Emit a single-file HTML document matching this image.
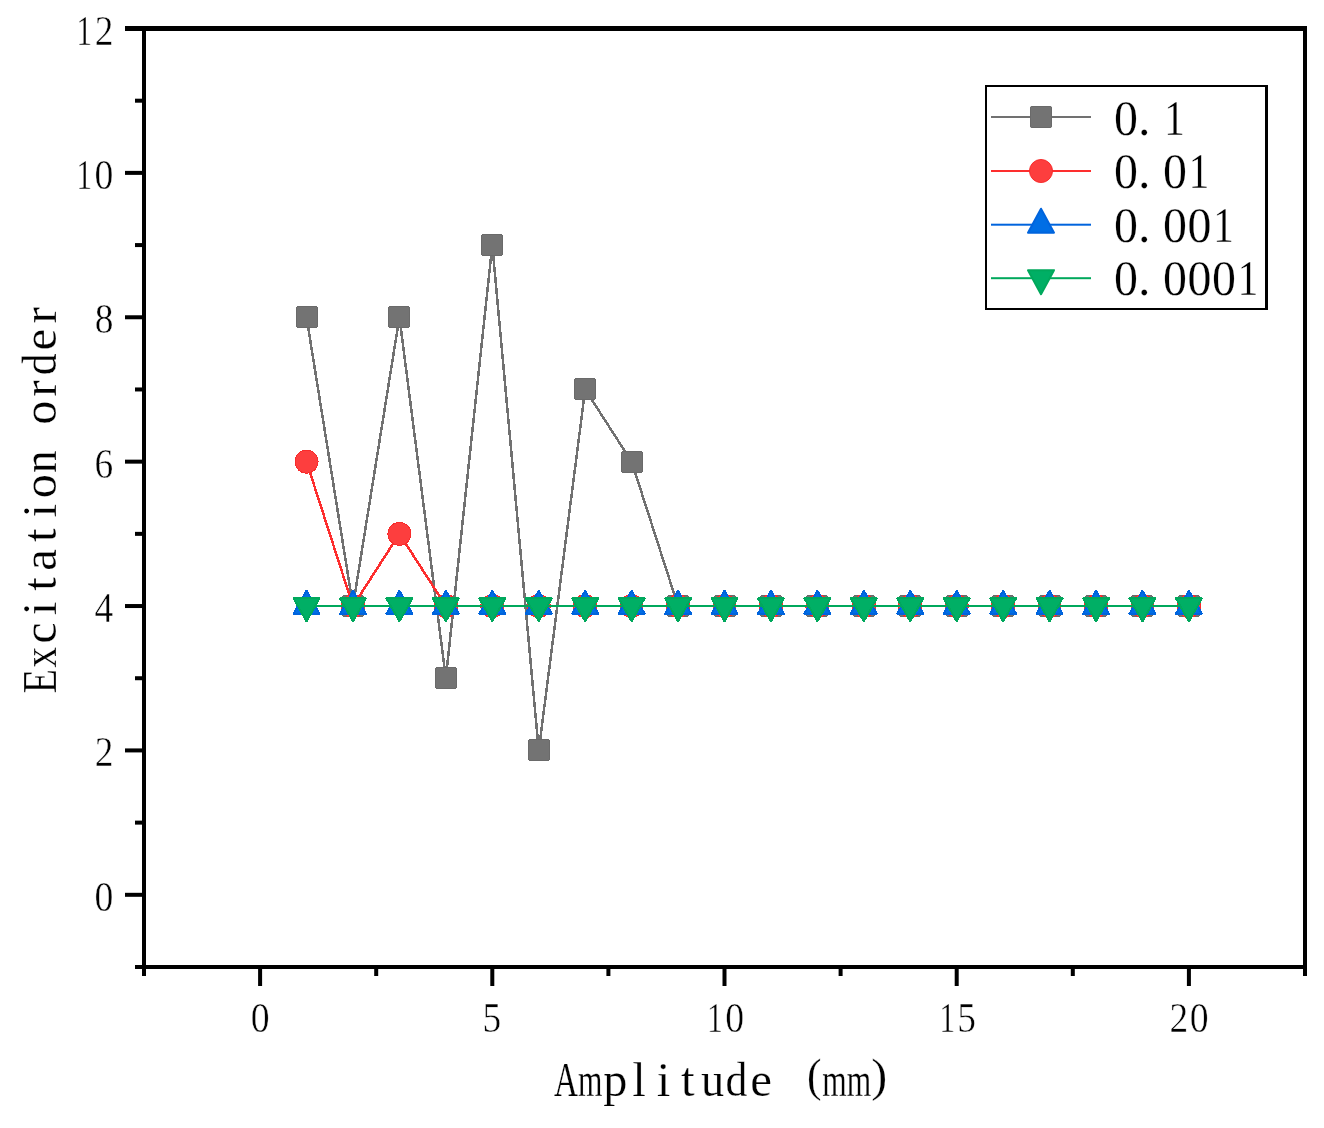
<!DOCTYPE html><html><head><meta charset="utf-8"><style>html,body{margin:0;padding:0;background:#fff;}svg{display:block;}text{font-family:"Liberation Serif",serif;fill:#000;stroke:#fff;stroke-width:0.25px;}text.t{stroke-width:0.45px;}</style></head><body>
<svg width="1324" height="1128" viewBox="0 0 1324 1128">
<rect width="1324" height="1128" fill="#fff"/>
<g shape-rendering="crispEdges">
<polyline points="306.54,317.27 352.98,606.04 399.42,317.27 445.86,678.23 492.30,245.08 538.74,750.42 585.18,389.46 631.62,461.65 678.06,606.04 724.50,606.04 770.94,606.04 817.38,606.04 863.82,606.04 910.26,606.04 956.70,606.04 1003.14,606.04 1049.58,606.04 1096.02,606.04 1142.46,606.04 1188.90,606.04" fill="none" stroke="#717171" stroke-width="2.5" stroke-linejoin="round"/>
<polygon points="297.3,306 316.7,306 318,307.3 318,326.7 316.7,328 297.3,328 296,326.7 296,307.3" fill="#6A6A6A"/>
<rect x="297" y="307" width="20" height="20" fill="#737373"/>
<polygon points="343.3,595 362.7,595 364,596.3 364,615.7 362.7,617 343.3,617 342,615.7 342,596.3" fill="#6A6A6A"/>
<rect x="343" y="596" width="20" height="20" fill="#737373"/>
<polygon points="389.3,306 408.7,306 410,307.3 410,326.7 408.7,328 389.3,328 388,326.7 388,307.3" fill="#6A6A6A"/>
<rect x="389" y="307" width="20" height="20" fill="#737373"/>
<polygon points="436.3,667 455.7,667 457,668.3 457,687.7 455.7,689 436.3,689 435,687.7 435,668.3" fill="#6A6A6A"/>
<rect x="436" y="668" width="20" height="20" fill="#737373"/>
<polygon points="482.3,234 501.7,234 503,235.3 503,254.7 501.7,256 482.3,256 481,254.7 481,235.3" fill="#6A6A6A"/>
<rect x="482" y="235" width="20" height="20" fill="#737373"/>
<polygon points="529.3,739 548.7,739 550,740.3 550,759.7 548.7,761 529.3,761 528,759.7 528,740.3" fill="#6A6A6A"/>
<rect x="529" y="740" width="20" height="20" fill="#737373"/>
<polygon points="575.3,378 594.7,378 596,379.3 596,398.7 594.7,400 575.3,400 574,398.7 574,379.3" fill="#6A6A6A"/>
<rect x="575" y="379" width="20" height="20" fill="#737373"/>
<polygon points="622.3,451 641.7,451 643,452.3 643,471.7 641.7,473 622.3,473 621,471.7 621,452.3" fill="#6A6A6A"/>
<rect x="622" y="452" width="20" height="20" fill="#737373"/>
<polygon points="668.3,595 687.7,595 689,596.3 689,615.7 687.7,617 668.3,617 667,615.7 667,596.3" fill="#6A6A6A"/>
<rect x="668" y="596" width="20" height="20" fill="#737373"/>
<polygon points="715.3,595 734.7,595 736,596.3 736,615.7 734.7,617 715.3,617 714,615.7 714,596.3" fill="#6A6A6A"/>
<rect x="715" y="596" width="20" height="20" fill="#737373"/>
<polygon points="761.3,595 780.7,595 782,596.3 782,615.7 780.7,617 761.3,617 760,615.7 760,596.3" fill="#6A6A6A"/>
<rect x="761" y="596" width="20" height="20" fill="#737373"/>
<polygon points="807.3,595 826.7,595 828,596.3 828,615.7 826.7,617 807.3,617 806,615.7 806,596.3" fill="#6A6A6A"/>
<rect x="807" y="596" width="20" height="20" fill="#737373"/>
<polygon points="854.3,595 873.7,595 875,596.3 875,615.7 873.7,617 854.3,617 853,615.7 853,596.3" fill="#6A6A6A"/>
<rect x="854" y="596" width="20" height="20" fill="#737373"/>
<polygon points="900.3,595 919.7,595 921,596.3 921,615.7 919.7,617 900.3,617 899,615.7 899,596.3" fill="#6A6A6A"/>
<rect x="900" y="596" width="20" height="20" fill="#737373"/>
<polygon points="947.3,595 966.7,595 968,596.3 968,615.7 966.7,617 947.3,617 946,615.7 946,596.3" fill="#6A6A6A"/>
<rect x="947" y="596" width="20" height="20" fill="#737373"/>
<polygon points="993.3,595 1012.7,595 1014,596.3 1014,615.7 1012.7,617 993.3,617 992,615.7 992,596.3" fill="#6A6A6A"/>
<rect x="993" y="596" width="20" height="20" fill="#737373"/>
<polygon points="1040.3,595 1059.7,595 1061,596.3 1061,615.7 1059.7,617 1040.3,617 1039,615.7 1039,596.3" fill="#6A6A6A"/>
<rect x="1040" y="596" width="20" height="20" fill="#737373"/>
<polygon points="1086.3,595 1105.7,595 1107,596.3 1107,615.7 1105.7,617 1086.3,617 1085,615.7 1085,596.3" fill="#6A6A6A"/>
<rect x="1086" y="596" width="20" height="20" fill="#737373"/>
<polygon points="1132.3,595 1151.7,595 1153,596.3 1153,615.7 1151.7,617 1132.3,617 1131,615.7 1131,596.3" fill="#6A6A6A"/>
<rect x="1132" y="596" width="20" height="20" fill="#737373"/>
<polygon points="1179.3,595 1198.7,595 1200,596.3 1200,615.7 1198.7,617 1179.3,617 1178,615.7 1178,596.3" fill="#6A6A6A"/>
<rect x="1179" y="596" width="20" height="20" fill="#737373"/>
<polyline points="306.54,461.65 352.98,606.04 399.42,533.85 445.86,606.04 492.30,606.04 538.74,606.04 585.18,606.04 631.62,606.04 678.06,606.04 724.50,606.04 770.94,606.04 817.38,606.04 863.82,606.04 910.26,606.04 956.70,606.04 1003.14,606.04 1049.58,606.04 1096.02,606.04 1142.46,606.04 1188.90,606.04" fill="none" stroke="#FD2E2E" stroke-width="2.5" stroke-linejoin="round"/>
<circle cx="306.54" cy="461.65" r="11.5" fill="#FD3E3E" stroke="#F82C2C" stroke-width="1"/>
<circle cx="352.98" cy="606.04" r="11.5" fill="#FD3E3E" stroke="#F82C2C" stroke-width="1"/>
<circle cx="399.42" cy="533.85" r="11.5" fill="#FD3E3E" stroke="#F82C2C" stroke-width="1"/>
<circle cx="445.86" cy="606.04" r="11.5" fill="#FD3E3E" stroke="#F82C2C" stroke-width="1"/>
<circle cx="492.30" cy="606.04" r="11.5" fill="#FD3E3E" stroke="#F82C2C" stroke-width="1"/>
<circle cx="538.74" cy="606.04" r="11.5" fill="#FD3E3E" stroke="#F82C2C" stroke-width="1"/>
<circle cx="585.18" cy="606.04" r="11.5" fill="#FD3E3E" stroke="#F82C2C" stroke-width="1"/>
<circle cx="631.62" cy="606.04" r="11.5" fill="#FD3E3E" stroke="#F82C2C" stroke-width="1"/>
<circle cx="678.06" cy="606.04" r="11.5" fill="#FD3E3E" stroke="#F82C2C" stroke-width="1"/>
<circle cx="724.50" cy="606.04" r="11.5" fill="#FD3E3E" stroke="#F82C2C" stroke-width="1"/>
<circle cx="770.94" cy="606.04" r="11.5" fill="#FD3E3E" stroke="#F82C2C" stroke-width="1"/>
<circle cx="817.38" cy="606.04" r="11.5" fill="#FD3E3E" stroke="#F82C2C" stroke-width="1"/>
<circle cx="863.82" cy="606.04" r="11.5" fill="#FD3E3E" stroke="#F82C2C" stroke-width="1"/>
<circle cx="910.26" cy="606.04" r="11.5" fill="#FD3E3E" stroke="#F82C2C" stroke-width="1"/>
<circle cx="956.70" cy="606.04" r="11.5" fill="#FD3E3E" stroke="#F82C2C" stroke-width="1"/>
<circle cx="1003.14" cy="606.04" r="11.5" fill="#FD3E3E" stroke="#F82C2C" stroke-width="1"/>
<circle cx="1049.58" cy="606.04" r="11.5" fill="#FD3E3E" stroke="#F82C2C" stroke-width="1"/>
<circle cx="1096.02" cy="606.04" r="11.5" fill="#FD3E3E" stroke="#F82C2C" stroke-width="1"/>
<circle cx="1142.46" cy="606.04" r="11.5" fill="#FD3E3E" stroke="#F82C2C" stroke-width="1"/>
<circle cx="1188.90" cy="606.04" r="11.5" fill="#FD3E3E" stroke="#F82C2C" stroke-width="1"/>
<polyline points="306.54,606.04 352.98,606.04 399.42,606.04 445.86,606.04 492.30,606.04 538.74,606.04 585.18,606.04 631.62,606.04 678.06,606.04 724.50,606.04 770.94,606.04 817.38,606.04 863.82,606.04 910.26,606.04 956.70,606.04 1003.14,606.04 1049.58,606.04 1096.02,606.04 1142.46,606.04 1188.90,606.04" fill="none" stroke="#0064DD" stroke-width="2.5" stroke-linejoin="round"/>
<polygon points="306.54,590.71 319.54,613.71 293.54,613.71" fill="#006EE5" stroke="#0064DD" stroke-width="2" stroke-linejoin="round"/>
<polygon points="352.98,590.71 365.98,613.71 339.98,613.71" fill="#006EE5" stroke="#0064DD" stroke-width="2" stroke-linejoin="round"/>
<polygon points="399.42,590.71 412.42,613.71 386.42,613.71" fill="#006EE5" stroke="#0064DD" stroke-width="2" stroke-linejoin="round"/>
<polygon points="445.86,590.71 458.86,613.71 432.86,613.71" fill="#006EE5" stroke="#0064DD" stroke-width="2" stroke-linejoin="round"/>
<polygon points="492.30,590.71 505.30,613.71 479.30,613.71" fill="#006EE5" stroke="#0064DD" stroke-width="2" stroke-linejoin="round"/>
<polygon points="538.74,590.71 551.74,613.71 525.74,613.71" fill="#006EE5" stroke="#0064DD" stroke-width="2" stroke-linejoin="round"/>
<polygon points="585.18,590.71 598.18,613.71 572.18,613.71" fill="#006EE5" stroke="#0064DD" stroke-width="2" stroke-linejoin="round"/>
<polygon points="631.62,590.71 644.62,613.71 618.62,613.71" fill="#006EE5" stroke="#0064DD" stroke-width="2" stroke-linejoin="round"/>
<polygon points="678.06,590.71 691.06,613.71 665.06,613.71" fill="#006EE5" stroke="#0064DD" stroke-width="2" stroke-linejoin="round"/>
<polygon points="724.50,590.71 737.50,613.71 711.50,613.71" fill="#006EE5" stroke="#0064DD" stroke-width="2" stroke-linejoin="round"/>
<polygon points="770.94,590.71 783.94,613.71 757.94,613.71" fill="#006EE5" stroke="#0064DD" stroke-width="2" stroke-linejoin="round"/>
<polygon points="817.38,590.71 830.38,613.71 804.38,613.71" fill="#006EE5" stroke="#0064DD" stroke-width="2" stroke-linejoin="round"/>
<polygon points="863.82,590.71 876.82,613.71 850.82,613.71" fill="#006EE5" stroke="#0064DD" stroke-width="2" stroke-linejoin="round"/>
<polygon points="910.26,590.71 923.26,613.71 897.26,613.71" fill="#006EE5" stroke="#0064DD" stroke-width="2" stroke-linejoin="round"/>
<polygon points="956.70,590.71 969.70,613.71 943.70,613.71" fill="#006EE5" stroke="#0064DD" stroke-width="2" stroke-linejoin="round"/>
<polygon points="1003.14,590.71 1016.14,613.71 990.14,613.71" fill="#006EE5" stroke="#0064DD" stroke-width="2" stroke-linejoin="round"/>
<polygon points="1049.58,590.71 1062.58,613.71 1036.58,613.71" fill="#006EE5" stroke="#0064DD" stroke-width="2" stroke-linejoin="round"/>
<polygon points="1096.02,590.71 1109.02,613.71 1083.02,613.71" fill="#006EE5" stroke="#0064DD" stroke-width="2" stroke-linejoin="round"/>
<polygon points="1142.46,590.71 1155.46,613.71 1129.46,613.71" fill="#006EE5" stroke="#0064DD" stroke-width="2" stroke-linejoin="round"/>
<polygon points="1188.90,590.71 1201.90,613.71 1175.90,613.71" fill="#006EE5" stroke="#0064DD" stroke-width="2" stroke-linejoin="round"/>
<polyline points="306.54,606.04 352.98,606.04 399.42,606.04 445.86,606.04 492.30,606.04 538.74,606.04 585.18,606.04 631.62,606.04 678.06,606.04 724.50,606.04 770.94,606.04 817.38,606.04 863.82,606.04 910.26,606.04 956.70,606.04 1003.14,606.04 1049.58,606.04 1096.02,606.04 1142.46,606.04 1188.90,606.04" fill="none" stroke="#00A85C" stroke-width="2.5" stroke-linejoin="round"/>
<polygon points="306.54,621.37 319.54,598.37 293.54,598.37" fill="#00AF65" stroke="#00A85C" stroke-width="2" stroke-linejoin="round"/>
<polygon points="352.98,621.37 365.98,598.37 339.98,598.37" fill="#00AF65" stroke="#00A85C" stroke-width="2" stroke-linejoin="round"/>
<polygon points="399.42,621.37 412.42,598.37 386.42,598.37" fill="#00AF65" stroke="#00A85C" stroke-width="2" stroke-linejoin="round"/>
<polygon points="445.86,621.37 458.86,598.37 432.86,598.37" fill="#00AF65" stroke="#00A85C" stroke-width="2" stroke-linejoin="round"/>
<polygon points="492.30,621.37 505.30,598.37 479.30,598.37" fill="#00AF65" stroke="#00A85C" stroke-width="2" stroke-linejoin="round"/>
<polygon points="538.74,621.37 551.74,598.37 525.74,598.37" fill="#00AF65" stroke="#00A85C" stroke-width="2" stroke-linejoin="round"/>
<polygon points="585.18,621.37 598.18,598.37 572.18,598.37" fill="#00AF65" stroke="#00A85C" stroke-width="2" stroke-linejoin="round"/>
<polygon points="631.62,621.37 644.62,598.37 618.62,598.37" fill="#00AF65" stroke="#00A85C" stroke-width="2" stroke-linejoin="round"/>
<polygon points="678.06,621.37 691.06,598.37 665.06,598.37" fill="#00AF65" stroke="#00A85C" stroke-width="2" stroke-linejoin="round"/>
<polygon points="724.50,621.37 737.50,598.37 711.50,598.37" fill="#00AF65" stroke="#00A85C" stroke-width="2" stroke-linejoin="round"/>
<polygon points="770.94,621.37 783.94,598.37 757.94,598.37" fill="#00AF65" stroke="#00A85C" stroke-width="2" stroke-linejoin="round"/>
<polygon points="817.38,621.37 830.38,598.37 804.38,598.37" fill="#00AF65" stroke="#00A85C" stroke-width="2" stroke-linejoin="round"/>
<polygon points="863.82,621.37 876.82,598.37 850.82,598.37" fill="#00AF65" stroke="#00A85C" stroke-width="2" stroke-linejoin="round"/>
<polygon points="910.26,621.37 923.26,598.37 897.26,598.37" fill="#00AF65" stroke="#00A85C" stroke-width="2" stroke-linejoin="round"/>
<polygon points="956.70,621.37 969.70,598.37 943.70,598.37" fill="#00AF65" stroke="#00A85C" stroke-width="2" stroke-linejoin="round"/>
<polygon points="1003.14,621.37 1016.14,598.37 990.14,598.37" fill="#00AF65" stroke="#00A85C" stroke-width="2" stroke-linejoin="round"/>
<polygon points="1049.58,621.37 1062.58,598.37 1036.58,598.37" fill="#00AF65" stroke="#00A85C" stroke-width="2" stroke-linejoin="round"/>
<polygon points="1096.02,621.37 1109.02,598.37 1083.02,598.37" fill="#00AF65" stroke="#00A85C" stroke-width="2" stroke-linejoin="round"/>
<polygon points="1142.46,621.37 1155.46,598.37 1129.46,598.37" fill="#00AF65" stroke="#00A85C" stroke-width="2" stroke-linejoin="round"/>
<polygon points="1188.90,621.37 1201.90,598.37 1175.90,598.37" fill="#00AF65" stroke="#00A85C" stroke-width="2" stroke-linejoin="round"/>
</g>
<rect x="125" y="26" width="1182" height="5" fill="#000"/>
<rect x="142" y="965" width="1165" height="4" fill="#000"/>
<rect x="142" y="26" width="4" height="943" fill="#000"/>
<rect x="1303" y="26" width="4" height="943" fill="#000"/>
<rect x="135" y="965.00" width="11" height="4" fill="#000"/>
<rect x="125" y="892.81" width="21" height="4" fill="#000"/>
<rect x="135" y="820.62" width="11" height="4" fill="#000"/>
<rect x="125" y="748.42" width="21" height="4" fill="#000"/>
<rect x="135" y="676.23" width="11" height="4" fill="#000"/>
<rect x="125" y="604.04" width="21" height="4" fill="#000"/>
<rect x="135" y="531.85" width="11" height="4" fill="#000"/>
<rect x="125" y="459.65" width="21" height="4" fill="#000"/>
<rect x="135" y="387.46" width="11" height="4" fill="#000"/>
<rect x="125" y="315.27" width="21" height="4" fill="#000"/>
<rect x="135" y="243.08" width="11" height="4" fill="#000"/>
<rect x="125" y="170.88" width="21" height="4" fill="#000"/>
<rect x="135" y="98.69" width="11" height="4" fill="#000"/>
<rect x="125" y="26.50" width="21" height="4" fill="#000"/>
<rect x="142.00" y="965" width="4" height="11" fill="#000"/>
<rect x="258.10" y="965" width="4" height="21" fill="#000"/>
<rect x="374.20" y="965" width="4" height="11" fill="#000"/>
<rect x="490.30" y="965" width="4" height="21" fill="#000"/>
<rect x="606.40" y="965" width="4" height="11" fill="#000"/>
<rect x="722.50" y="965" width="4" height="21" fill="#000"/>
<rect x="838.60" y="965" width="4" height="11" fill="#000"/>
<rect x="954.70" y="965" width="4" height="21" fill="#000"/>
<rect x="1070.80" y="965" width="4" height="11" fill="#000"/>
<rect x="1186.90" y="965" width="4" height="21" fill="#000"/>
<rect x="1303.00" y="965" width="4" height="11" fill="#000"/>
<text class="t" transform="translate(94.56,910.81) scale(0.899,1.000)" font-size="42">0</text>
<text class="t" transform="translate(94.86,766.42) scale(0.891,1.000)" font-size="42">2</text>
<text class="t" transform="translate(94.58,622.04) scale(0.890,1.000)" font-size="42">4</text>
<text class="t" transform="translate(94.41,477.65) scale(0.890,1.000)" font-size="42">6</text>
<text class="t" transform="translate(94.66,333.27) scale(0.890,1.000)" font-size="42">8</text>
<text class="t" transform="translate(76.20,188.88) scale(0.757,1.000)" font-size="42">1</text>
<text class="t" transform="translate(94.56,188.88) scale(0.899,1.000)" font-size="42">0</text>
<text class="t" transform="translate(76.20,44.50) scale(0.757,1.000)" font-size="42">1</text>
<text class="t" transform="translate(94.86,44.50) scale(0.891,1.000)" font-size="42">2</text>
<text class="t" transform="translate(250.66,1031.50) scale(0.899,1.000)" font-size="42">0</text>
<text class="t" transform="translate(482.60,1031.50) scale(0.890,1.000)" font-size="42">5</text>
<text class="t" transform="translate(706.95,1031.50) scale(0.757,1.000)" font-size="42">1</text>
<text class="t" transform="translate(725.31,1031.50) scale(0.899,1.000)" font-size="42">0</text>
<text class="t" transform="translate(939.15,1031.50) scale(0.757,1.000)" font-size="42">1</text>
<text class="t" transform="translate(957.25,1031.50) scale(0.890,1.000)" font-size="42">5</text>
<text class="t" transform="translate(1169.51,1031.50) scale(0.891,1.000)" font-size="42">2</text>
<text class="t" transform="translate(1189.71,1031.50) scale(0.899,1.000)" font-size="42">0</text>
<text transform="translate(553.88,1095.50) scale(0.677,1.000)" font-size="49">A</text>
<text transform="translate(578.01,1095.50) scale(0.642,1.000)" font-size="49">m</text>
<text transform="translate(603.21,1095.50) scale(0.986,1.000)" font-size="49">p</text>
<text transform="translate(632.35,1095.50) scale(1.000,1.000)" font-size="49">l</text>
<text transform="translate(656.73,1095.50) scale(1.000,1.000)" font-size="49">i</text>
<text transform="translate(681.10,1095.50) scale(1.000,1.000)" font-size="49">t</text>
<text transform="translate(700.91,1095.50) scale(0.947,1.000)" font-size="49">u</text>
<text transform="translate(725.41,1095.50) scale(0.890,1.000)" font-size="49">d</text>
<text transform="translate(750.28,1095.50) scale(1.000,1.000)" font-size="49">e</text>
<text transform="translate(807.08,1090.60) scale(0.890,0.960)" font-size="49">(</text>
<text transform="translate(822.21,1095.50) scale(0.642,1.000)" font-size="49">m</text>
<text transform="translate(846.63,1095.50) scale(0.642,1.000)" font-size="49">m</text>
<text transform="translate(871.37,1090.60) scale(0.977,0.960)" font-size="49">)</text>
<text transform="translate(56.30,693.56) rotate(-90) scale(0.821,1)" font-size="49">E</text>
<text transform="translate(56.30,667.41) rotate(-90) scale(0.835,1)" font-size="49">x</text>
<text transform="translate(56.30,643.45) rotate(-90) scale(0.963,1)" font-size="49">c</text>
<text transform="translate(56.30,615.20) rotate(-90) scale(1.000,1)" font-size="49">i</text>
<text transform="translate(56.30,590.80) rotate(-90) scale(1.000,1)" font-size="49">t</text>
<text transform="translate(56.30,570.85) rotate(-90) scale(1.000,1)" font-size="49">a</text>
<text transform="translate(56.30,541.90) rotate(-90) scale(1.000,1)" font-size="49">t</text>
<text transform="translate(56.30,517.40) rotate(-90) scale(1.000,1)" font-size="49">i</text>
<text transform="translate(56.30,498.19) rotate(-90) scale(0.987,1)" font-size="49">o</text>
<text transform="translate(56.30,473.03) rotate(-90) scale(0.915,1)" font-size="49">n</text>
<text transform="translate(56.30,424.84) rotate(-90) scale(0.987,1)" font-size="49">o</text>
<text transform="translate(56.30,396.73) rotate(-90) scale(1.000,1)" font-size="49">r</text>
<text transform="translate(56.30,375.28) rotate(-90) scale(0.890,1)" font-size="49">d</text>
<text transform="translate(56.30,350.38) rotate(-90) scale(1.000,1)" font-size="49">e</text>
<text transform="translate(56.30,323.38) rotate(-90) scale(1.000,1)" font-size="49">r</text>
<rect x="985" y="85" width="283" height="2" fill="#000"/>
<rect x="985" y="308" width="283" height="2" fill="#000"/>
<rect x="985" y="85" width="2" height="225" fill="#000"/>
<rect x="1265" y="85" width="3" height="225" fill="#000"/>
<rect x="991" y="116.0" width="100" height="2" fill="#717171"/>
<polygon points="1031.3,106 1050.7,106 1052,107.3 1052,126.7 1050.7,128 1031.3,128 1030,126.7 1030,107.3" fill="#6A6A6A"/>
<rect x="1031" y="107" width="20" height="20" fill="#737373"/>
<text transform="translate(1114.03,134.90) scale(0.958,1.000)" font-size="50">0</text>
<text transform="translate(1137.95,134.90) scale(1.000,1.000)" font-size="50">.</text>
<text transform="translate(1164.20,134.90) scale(0.818,1.000)" font-size="50">1</text>
<rect x="991" y="170.0" width="100" height="2" fill="#FD2E2E"/>
<circle cx="1041.00" cy="171.00" r="11.5" fill="#FD3E3E" stroke="#F82C2C" stroke-width="1"/>
<text transform="translate(1114.03,188.33) scale(0.958,1.000)" font-size="50">0</text>
<text transform="translate(1137.95,188.33) scale(1.000,1.000)" font-size="50">.</text>
<text transform="translate(1163.03,188.33) scale(0.958,1.000)" font-size="50">0</text>
<text transform="translate(1188.70,188.33) scale(0.818,1.000)" font-size="50">1</text>
<rect x="991" y="223.7" width="100" height="2" fill="#0064DD"/>
<polygon points="1041.00,208.70 1054.00,232.70 1028.00,232.70" fill="#006EE5" stroke="#0064DD" stroke-width="2" stroke-linejoin="round"/>
<text transform="translate(1114.03,241.76) scale(0.958,1.000)" font-size="50">0</text>
<text transform="translate(1137.95,241.76) scale(1.000,1.000)" font-size="50">.</text>
<text transform="translate(1163.03,241.76) scale(0.958,1.000)" font-size="50">0</text>
<text transform="translate(1187.53,241.76) scale(0.958,1.000)" font-size="50">0</text>
<text transform="translate(1213.20,241.76) scale(0.818,1.000)" font-size="50">1</text>
<rect x="991" y="277.2" width="100" height="2" fill="#00A85C"/>
<polygon points="1041.00,294.20 1054.00,270.20 1028.00,270.20" fill="#00AF65" stroke="#00A85C" stroke-width="2" stroke-linejoin="round"/>
<text transform="translate(1114.03,295.19) scale(0.958,1.000)" font-size="50">0</text>
<text transform="translate(1137.95,295.19) scale(1.000,1.000)" font-size="50">.</text>
<text transform="translate(1163.03,295.19) scale(0.958,1.000)" font-size="50">0</text>
<text transform="translate(1187.53,295.19) scale(0.958,1.000)" font-size="50">0</text>
<text transform="translate(1212.03,295.19) scale(0.958,1.000)" font-size="50">0</text>
<text transform="translate(1237.70,295.19) scale(0.818,1.000)" font-size="50">1</text>
</svg></body></html>
